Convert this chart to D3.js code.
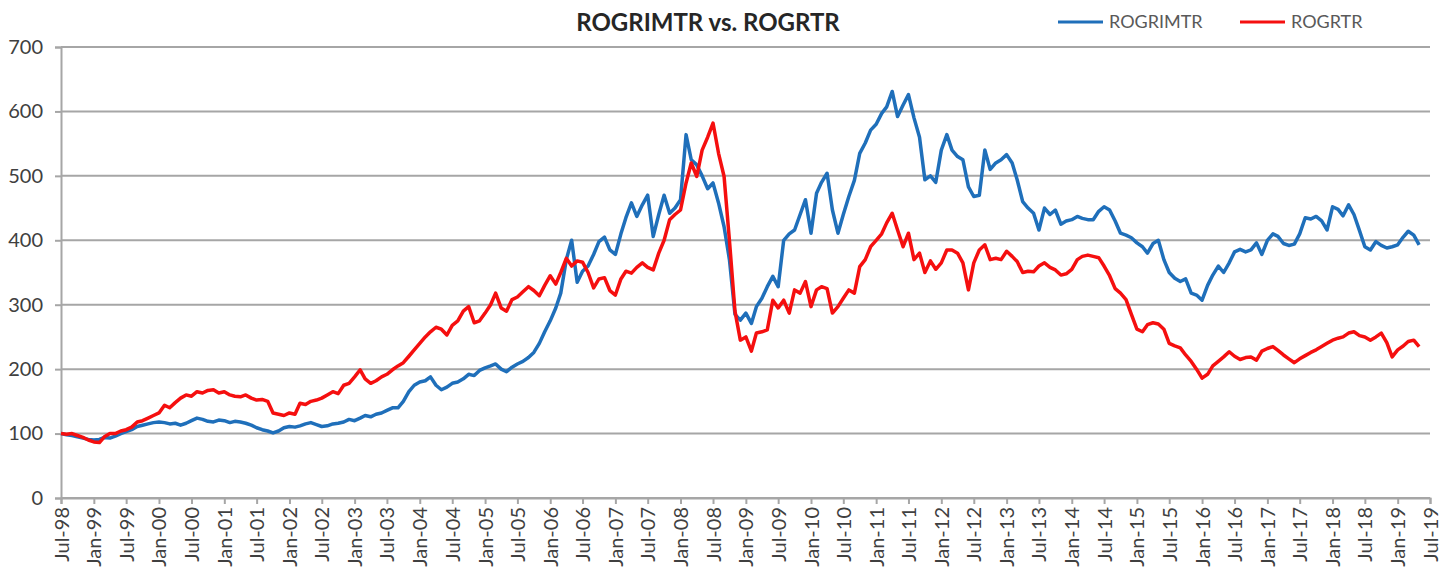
<!DOCTYPE html>
<html>
<head>
<meta charset="utf-8">
<script src="https://cdn.jsdelivr.net/npm/d3@7"></script>
<style>
  body { margin: 0; background: #fff; }
  svg { display: block; font-family: Lato, "Open Sans", sans-serif; }
</style>
</head>
<body>
<svg id="chart" width="1451" height="572"></svg>
<script>
// monthly readings, first value = Jul-98
const startMonth = new Date(1998, 6, 1);

const rogrimtr = [
  100, 98, 97, 95, 93, 91, 90, 91, 94, 93,
  96, 100, 103, 106, 111, 113, 115, 117, 118, 117,
  115, 116, 113, 116, 120, 124, 122, 119, 118, 121,
  120, 117, 119, 118, 116, 113, 109, 106, 104, 101,
  104, 109, 111, 110, 112, 115, 117, 114, 111, 112,
  115, 116, 118, 122, 120, 124, 128, 126, 130, 132,
  136, 140, 140, 150, 165, 175, 180, 182, 188, 175,
  168, 172, 178, 180, 185, 192, 190, 198, 202, 205,
  208, 200, 196, 203, 208, 212, 218, 226, 240, 258,
  275, 295, 318, 370, 400, 335, 352, 360, 378, 398,
  405, 385, 378, 410, 435, 458, 437, 455, 470, 406,
  440, 470, 442, 450, 463, 564, 525, 517, 500, 480,
  489, 458, 421, 370, 285, 276, 287, 271, 297, 310,
  328, 344, 328, 400, 410, 416, 440, 463, 411, 473,
  490, 504, 447, 411, 440, 468, 493, 535, 551, 571,
  580, 597, 607, 631, 592, 610, 626, 590, 560, 494,
  500, 490, 540, 564, 540, 530, 525, 483, 468, 470,
  540, 510, 520, 525, 533, 520, 494, 460, 450, 442,
  416, 450, 440, 447, 425, 430, 432, 437, 434, 432,
  432, 445, 452, 447, 430, 411, 408, 404, 396, 390,
  380, 395, 400, 370, 350, 341, 336, 340, 318, 315,
  307, 330, 346, 360, 350, 365, 382, 386, 382, 385,
  396, 378, 400, 410, 406, 395, 392, 394, 410, 435,
  433, 437, 430, 416, 452, 448, 438, 455, 440, 415,
  390, 385, 398, 392, 388, 390, 393, 405, 414, 408, 393
];

const rogrtr = [
  100, 99, 100, 97, 94, 90, 87, 86, 95, 100,
  100, 104, 106, 110, 118, 120, 124, 128, 132, 144,
  140, 148, 155, 160, 158, 165, 163, 167, 168, 163,
  165, 160, 158, 157, 160, 155, 152, 153, 150, 132,
  130, 128, 132, 130, 147, 145, 150, 152, 155, 160,
  165, 162, 175, 178, 188, 199, 185, 178, 182, 188,
  192, 199, 205, 210, 220, 230, 240, 250, 258, 265,
  262, 253, 268, 275, 290, 297, 272, 275, 287, 300,
  318, 295, 290, 308, 312, 320, 328, 322, 314, 330,
  345, 332, 350, 372, 360, 368, 366, 350, 326, 340,
  342, 322, 315, 340, 352, 349, 358, 365, 358, 354,
  380, 400, 432, 440, 447, 489, 520, 499, 540, 560,
  582, 535, 499, 400, 290, 245, 250, 228, 256, 258,
  261, 307, 295, 307, 287, 323, 318, 336, 297, 323,
  328, 325, 287, 297, 310, 323, 318, 359, 370, 390,
  400, 410, 427, 442, 416, 390, 411, 370, 380, 350,
  368, 355, 365, 385, 385, 380, 365, 323, 365, 385,
  393, 370, 372, 370, 383, 375, 367, 350, 352, 351,
  360, 365, 358, 354, 346, 348, 355, 370, 375, 377,
  375, 373, 360, 345, 325, 318, 308, 285, 262, 258,
  269, 272, 270, 262, 240, 236, 233, 222, 212, 200,
  186, 192, 205, 212, 219, 227, 220, 215, 218, 219,
  214, 228, 232, 235, 229, 222, 216, 210, 216, 221,
  226, 230, 235, 240, 245, 248, 250, 256, 258, 252,
  250, 245, 250, 256, 241, 219, 230, 236, 243, 245, 235
];

const yTicks = [0, 100, 200, 300, 400, 500, 600, 700];
const seriesNames = ["ROGRIMTR", "ROGRTR"];
const seriesColors = ["#1f6fba", "#f50f0f"];
const chartTitle = "ROGRIMTR vs. ROGRTR";

const svg = d3.select("#chart");
const margin = {left: 61, right: 1430, top: 47, bottom: 498};

const x = d3.scaleTime()
  .domain([startMonth, new Date(2019, 6, 1)])
  .range([margin.left, margin.right]);

const y = d3.scaleLinear()
  .domain([0, 700])
  .range([margin.bottom, margin.top]);

// gridlines
svg.append("g")
  .selectAll("line")
  .data(yTicks)
  .join("line")
  .attr("x1", margin.left)
  .attr("x2", margin.right)
  .attr("y1", d => y(d))
  .attr("y2", d => y(d))
  .attr("stroke", "#a6a6a6")
  .attr("stroke-width", 2);

// y axis
const yAxis = svg.append("g")
  .attr("transform", `translate(${margin.left},0)`)
  .call(d3.axisLeft(y).tickValues(yTicks).tickSize(6).tickPadding(12));
yAxis.select(".domain").attr("stroke", "#a6a6a6").attr("stroke-width", 2);
yAxis.selectAll(".tick line").attr("stroke", "#a6a6a6").attr("stroke-width", 2);
yAxis.selectAll("text")
  .attr("fill", "#404040")
  .style("font-size", "20px")
  .style("font-family", "Lato");

// x axis, a label every six months
const xTicks = d3.timeMonth.every(6).range(startMonth, new Date(2019, 7, 1));
const xAxis = svg.append("g")
  .attr("transform", `translate(0,${margin.bottom})`)
  .call(d3.axisBottom(x).tickValues(xTicks).tickSize(6).tickFormat(d3.timeFormat("%b-%y")));
xAxis.select(".domain").attr("stroke", "#a6a6a6").attr("stroke-width", 2);
xAxis.selectAll(".tick line").attr("stroke", "#a6a6a6").attr("stroke-width", 2);
xAxis.selectAll("text")
  .attr("fill", "#404040")
  .style("font-size", "20px")
  .style("font-family", "Lato")
  .attr("text-anchor", "end")
  .attr("transform", "rotate(-90)")
  .attr("x", -9)
  .attr("y", 0)
  .attr("dy", "0.35em");

// series
const line = d3.line()
  .x((d, i) => x(d3.timeMonth.offset(startMonth, i)))
  .y(d => y(d));

[rogrimtr, rogrtr].forEach((values, i) => {
  svg.append("path")
    .datum(values)
    .attr("fill", "none")
    .attr("stroke", seriesColors[i])
    .attr("stroke-width", 3.5)
    .attr("stroke-linejoin", "round")
    .attr("d", line);
});

// title
svg.append("text")
  .attr("x", 708)
  .attr("y", 31)
  .attr("text-anchor", "middle")
  .attr("fill", "#262626")
  .style("font-size", "24px")
  .style("font-weight", "bold")
  .text(chartTitle);

// legend
const legend = svg.append("g")
  .selectAll("g")
  .data(seriesNames)
  .join("g")
  .attr("transform", (d, i) => `translate(${[1058, 1240][i]},22)`);

legend.append("line")
  .attr("x1", 0)
  .attr("x2", 45)
  .attr("stroke", (d, i) => seriesColors[i])
  .attr("stroke-width", 3);

legend.append("text")
  .attr("x", 51)
  .attr("dy", "0.35em")
  .attr("fill", "#595959")
  .style("font-size", "18px")
  .text(d => d);
</script>
</body>
</html>
